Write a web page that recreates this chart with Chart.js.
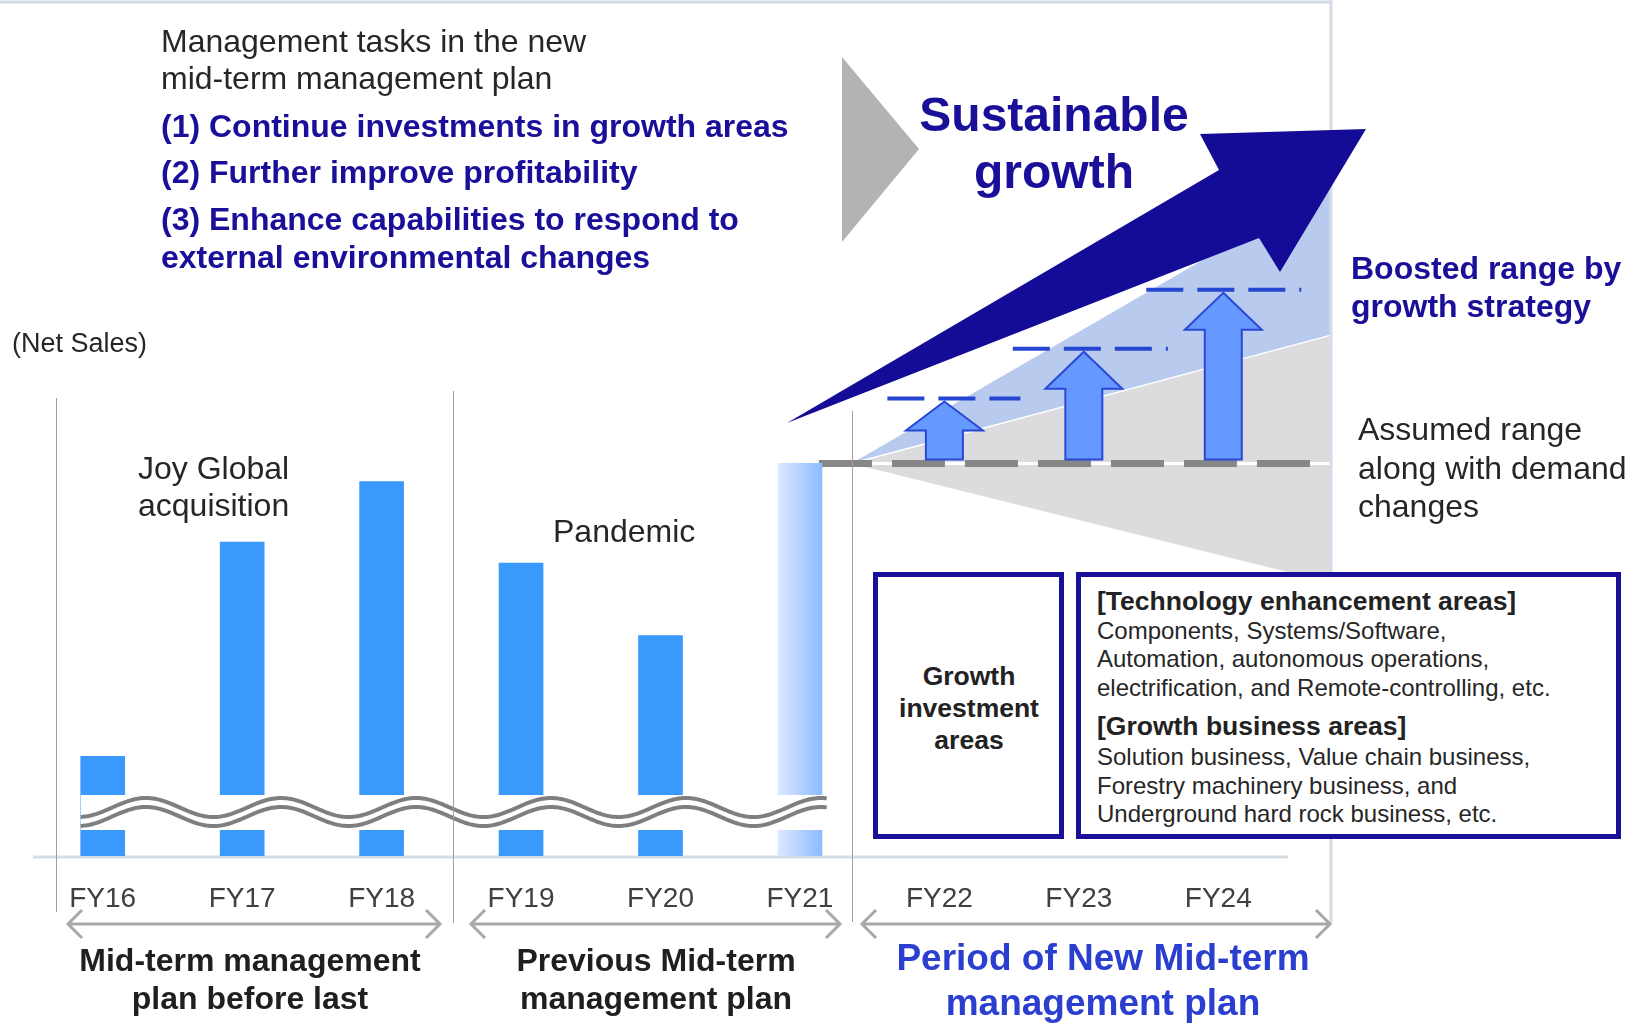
<!DOCTYPE html>
<html>
<head>
<meta charset="utf-8">
<script src="https://cdn.jsdelivr.net/npm/chart.js@4.4.0/dist/chart.umd.min.js"></script>
<style>
body { margin: 0; background: #fff; }
#wrap { position: relative; width: 1633px; height: 1024px; overflow: hidden; font-family: "Liberation Sans", Arial, sans-serif; color: #262626; }
#chart { position: absolute; left: 0; top: 0; }
.t { position: absolute; white-space: nowrap; }
.c { transform: translateX(-50%); text-align: center; }
.b { font-weight: bold; }
.navy { color: #1a0f99; }
.box { position: absolute; box-sizing: border-box; border: 5px solid #1a0f99; background: #fff; }
</style>
</head>
<body>
<div id="wrap">
  <canvas id="chart" width="1633" height="1024"></canvas>

  <div class="t" style="left:161px; top:23px; font-size:32px; line-height:37px;">Management tasks in the new<br>mid-term management plan</div>
  <div class="t b navy" style="left:161px; top:107px; font-size:32px; line-height:38px;">(1) Continue investments in growth areas</div>
  <div class="t b navy" style="left:161px; top:153px; font-size:32px; line-height:38px;">(2) Further improve profitability</div>
  <div class="t b navy" style="left:161px; top:200px; font-size:32px; line-height:38px;">(3) Enhance capabilities to respond to<br>external environmental changes</div>

  <div class="t b navy c" style="left:1054px; top:86px; font-size:48px; line-height:57px;">Sustainable<br>growth</div>
  <div class="t b navy" style="left:1351px; top:249px; font-size:32px; line-height:38px;">Boosted range by<br>growth strategy</div>
  <div class="t" style="left:1358px; top:410px; font-size:32px; line-height:38.5px;">Assumed range<br>along with demand<br>changes</div>

  <div class="t" style="left:12px; top:328px; font-size:27px; line-height:30px;">(Net Sales)</div>
  <div class="t" style="left:138px; top:450px; font-size:32px; line-height:37px;">Joy Global<br>acquisition</div>
  <div class="t" style="left:553px; top:513px; font-size:32px; line-height:37px;">Pandemic</div>

  <div class="box" style="left:873px; top:572px; width:191px; height:267px;"></div>
  <div class="t b c" style="left:969px; top:660px; font-size:26.5px; line-height:32px; color:#222;">Growth<br>investment<br>areas</div>

  <div class="box" style="left:1076px; top:572px; width:545px; height:267px;"></div>
  <div class="t b" style="left:1097px; top:585px; font-size:26.5px; line-height:32px; color:#222;">[Technology enhancement areas]</div>
  <div class="t" style="left:1097px; top:617px; font-size:24px; line-height:28px;">Components, Systems/Software,</div>
  <div class="t" style="left:1097px; top:645px; font-size:24px; line-height:28px;">Automation, autonomous operations,</div>
  <div class="t" style="left:1097px; top:674px; font-size:24px; line-height:28px;">electrification, and Remote-controlling, etc.</div>
  <div class="t b" style="left:1097px; top:710px; font-size:26.5px; line-height:32px; color:#222;">[Growth business areas]</div>
  <div class="t" style="left:1097px; top:743px; font-size:24px; line-height:28px;">Solution business, Value chain business,</div>
  <div class="t" style="left:1097px; top:772px; font-size:24px; line-height:28px;">Forestry machinery business, and</div>
  <div class="t" style="left:1097px; top:800px; font-size:24px; line-height:28px;">Underground hard rock business, etc.</div>

  <div class="t b c" style="left:250px; top:941px; font-size:32px; line-height:38px; color:#1f1f1f;">Mid-term management<br>plan before last</div>
  <div class="t b c" style="left:656px; top:941px; font-size:32px; line-height:38px; color:#1f1f1f;">Previous Mid-term<br>management plan</div>
  <div class="t b c" style="left:1103px; top:935px; font-size:37px; line-height:45px; color:#2a3fcf;">Period of New Mid-term<br>management plan</div>
</div>

<script>
// 年度ラベルと売上（億円単位の目安、図から読み取り）
const fiscalYears = ['FY16', 'FY17', 'FY18', 'FY19', 'FY20', 'FY21', 'FY22', 'FY23', 'FY24'];
const netSales = [1800, 2510, 2710, 2440, 2200, 2770, null, null, null];
// 成長戦略による上乗せ（FY22〜FY24の矢印の到達点）
const boostedLevels = [2985, 3150, 3345];
// 需要変動の想定レンジ（右端での下限・上限）と上乗せレンジ上限
const assumedRange = [2375, 3195];
const boostedTop = 3690;
const axisMin = 1470;
const axisMax = 3000;

const FONT = '"Liberation Sans", Arial, sans-serif';
// 点線の左右の伸び（矢印中心から）
const dashReach = [[-57, 76], [-71, 84], [-77, 78]];

function poly(ctx, pts) {
    ctx.beginPath();
    ctx.moveTo(pts[0][0], pts[0][1]);
    for (let i = 1; i < pts.length; i++) ctx.lineTo(pts[i][0], pts[i][1]);
    ctx.closePath();
}

function line(ctx, x1, y1, x2, y2) {
    ctx.beginPath();
    ctx.moveTo(x1, y1);
    ctx.lineTo(x2, y2);
    ctx.stroke();
}

// 左右に開いた矢印（期間表示）
function spanArrow(ctx, x1, x2, yy) {
    ctx.strokeStyle = '#a8a8a8';
    ctx.lineWidth = 3;
    line(ctx, x1, yy, x2, yy);
    ctx.beginPath();
    ctx.moveTo(x1 + 14, yy - 14); ctx.lineTo(x1, yy); ctx.lineTo(x1 + 14, yy + 14);
    ctx.moveTo(x2 - 14, yy - 14); ctx.lineTo(x2, yy); ctx.lineTo(x2 - 14, yy + 14);
    ctx.stroke();
}

const decoPlugin = {
    id: 'deco',
    beforeDatasetsDraw(chart) {
        const { ctx, chartArea: a, scales: { x, y } } = chart;
        const step = x.getPixelForValue(1) - x.getPixelForValue(0);
        const base = y.getPixelForValue(netSales[5]);
        const apexX = x.getPixelForValue(5) + step * 0.37;
        const edgeX = 1331;
        ctx.save();

        // 成長レンジ（青）と想定レンジ（灰）
        ctx.fillStyle = '#b8cbee';
        poly(ctx, [[apexX, base], [edgeX, y.getPixelForValue(boostedTop)], [edgeX, y.getPixelForValue(assumedRange[1])]]);
        ctx.fill();
        ctx.fillStyle = '#dcdcdf';
        poly(ctx, [[apexX, base], [edgeX, y.getPixelForValue(assumedRange[1])], [edgeX, base]]);
        ctx.fill();
        poly(ctx, [[apexX, base], [edgeX, base], [edgeX, y.getPixelForValue(assumedRange[0])]]);
        ctx.fill();
        ctx.strokeStyle = '#ffffff';
        ctx.lineWidth = 1.5;
        line(ctx, apexX, base, edgeX, y.getPixelForValue(assumedRange[1]));
        ctx.lineWidth = 3;
        line(ctx, apexX, base, edgeX, base);

        // 外枠
        ctx.strokeStyle = '#d5dce5';
        ctx.lineWidth = 3;
        line(ctx, 0, 2, edgeX, 2);
        line(ctx, edgeX, 0, edgeX, 924);

        // 基準線
        ctx.strokeStyle = '#d5dce5';
        ctx.lineWidth = 3;
        line(ctx, a.left, a.bottom + 1, a.right, a.bottom + 1);

        // FY21水準の点線
        ctx.strokeStyle = '#878787';
        ctx.lineWidth = 7;
        ctx.setLineDash([53, 20]);
        line(ctx, x.getPixelForValue(5) + 19, base, 1312, base);
        ctx.setLineDash([]);
        ctx.restore();
    },
    afterDatasetsDraw(chart) {
        const { ctx, scales: { x, y } } = chart;
        const base = y.getPixelForValue(netSales[5]);
        ctx.save();

        // 省略（波線）
        const left = x.getPixelForValue(0) - 22;
        const right = x.getPixelForValue(5) + 28;
        ctx.fillStyle = '#ffffff';
        ctx.fillRect(left, 795, right - left, 35);
        ctx.strokeStyle = '#7f7f7f';
        ctx.lineWidth = 4;
        [0, 9].forEach(function (off) {
            ctx.beginPath();
            for (let px = left; px <= right; px += 2) {
                const yy = 807.5 + off - 9.5 * Math.cos(2 * Math.PI * (px - 146) / 135);
                if (px === left) ctx.moveTo(px, yy); else ctx.lineTo(px, yy);
            }
            ctx.stroke();
        });

        // 区切り線
        ctx.strokeStyle = '#a0a0a0';
        ctx.lineWidth = 1;
        line(ctx, 56.5, 398, 56.5, 912);
        line(ctx, 453.5, 391, 453.5, 923);
        line(ctx, 852.5, 411, 852.5, 922);

        // 上乗せの点線と上向き矢印
        boostedLevels.forEach(function (lv, i) {
            const cx = x.getPixelForValue(6 + i) + 5;
            const ly = y.getPixelForValue(lv);
            ctx.strokeStyle = '#2446d0';
            ctx.lineWidth = 4;
            ctx.setLineDash([37, 14]);
            line(ctx, cx + dashReach[i][0], ly, cx + dashReach[i][1], ly);
            ctx.setLineDash([]);
            const tip = ly + 3;
            const headH = i === 0 ? 29 : 37;
            const bot = base - 4;
            poly(ctx, [[cx, tip], [cx + 38.5, tip + headH], [cx + 18.5, tip + headH], [cx + 18.5, bot],
                [cx - 18.5, bot], [cx - 18.5, tip + headH], [cx - 38.5, tip + headH]]);
            ctx.fillStyle = '#6699ff';
            ctx.fill();
            ctx.strokeStyle = '#2a47d6';
            ctx.lineWidth = 2;
            ctx.stroke();
        });

        // 持続的成長の大矢印
        ctx.fillStyle = '#140c96';
        poly(ctx, [[787, 423], [1219, 170], [1200, 134], [1366, 129], [1280, 272], [1259, 238]]);
        ctx.fill();

        // 灰色の三角
        ctx.fillStyle = '#b3b3b3';
        poly(ctx, [[842, 57], [842, 242], [919, 149]]);
        ctx.fill();

        // 期間の矢印
        spanArrow(ctx, 68, 440, 924);
        spanArrow(ctx, 471, 840, 924);
        spanArrow(ctx, 862, 1330, 924);
        ctx.restore();
    }
};

function barColor(context) {
    const chart = context.chart;
    if (context.dataIndex !== 5 || !chart.chartArea) return '#3999fd';
    const cx = chart.scales.x.getPixelForValue(5);
    const g = chart.ctx.createLinearGradient(cx - 22, 0, cx + 22, 0);
    g.addColorStop(0, '#dde8ff');
    g.addColorStop(1, '#8dbbff');
    return g;
}

new Chart(document.getElementById('chart'), {
    type: 'bar',
    data: {
        labels: fiscalYears,
        datasets: [{
            data: netSales,
            backgroundColor: barColor,
            borderWidth: 0,
            barThickness: 44
        }]
    },
    options: {
        responsive: false,
        animation: false,
        events: [],
        layout: { padding: { left: 33, right: 345, top: 394, bottom: 0 } },
        plugins: {
            legend: { display: false },
            tooltip: { enabled: false }
        },
        scales: {
            x: {
                grid: { display: false, drawTicks: false },
                border: { display: false },
                ticks: {
                    color: '#404040',
                    font: { family: FONT, size: 28 },
                    padding: 26,
                    maxRotation: 0,
                    autoSkip: false
                },
                afterFit: function (scale) { scale.height = 168; }
            },
            y: { display: false, min: axisMin, max: axisMax }
        }
    },
    plugins: [decoPlugin]
});
</script>
</body>
</html>
